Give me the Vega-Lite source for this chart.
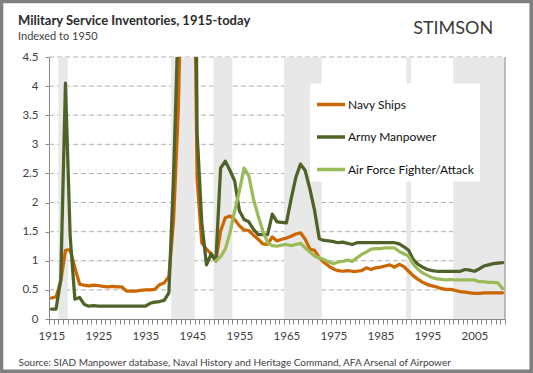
{
  "$schema": "https://vega.github.io/schema/vega-lite/v6.json",
  "width": 456,
  "height": 262,
  "autosize": "none",
  "padding": {"left": 49, "top": 57, "right": 28, "bottom": 54},
  "background": "white",
  "config": {
    "view": {"stroke": null},
    "font": "Lato",
    "axisX": {
      "grid": false,
      "tickSize": 5,
      "tickColor": "#868686",
      "domainColor": "#868686",
      "labelFont": "Lato",
      "labelFontSize": 11.5,
      "labelColor": "#404040",
      "labelPadding": 6,
      "labelOverlap": false,
      "labelFlush": false,
      "labelBound": false,
      "titleFont": "Lato",
      "titleFontSize": 10,
      "titleFontWeight": "normal",
      "titleColor": "#404040"
    },
    "axisY": {
      "grid": false,
      "tickSize": 4,
      "tickColor": "#868686",
      "domainColor": "#868686",
      "labelFont": "Lato",
      "labelFontSize": 11.5,
      "labelColor": "#404040",
      "labelPadding": 7,
      "labelOverlap": false
    }
  },
  "title": {
    "text": "Military Service Inventories, 1915-today",
    "subtitle": "Indexed to 1950",
    "anchor": "start",
    "frame": "group",
    "dx": -31,
    "dy": 42,
    "offset": 0,
    "font": "Lato",
    "fontSize": 13,
    "fontWeight": "bold",
    "color": "#2b2b2b",
    "subtitleFont": "Lato",
    "subtitleFontSize": 11,
    "subtitleColor": "#3f3f3f",
    "subtitlePadding": 3
  },
  "datasets": {
    "gridlines": [
      {"level": 0.5}, {"level": 1}, {"level": 1.5}, {"level": 2}, {"level": 2.5},
      {"level": 3}, {"level": 3.5}, {"level": 4}, {"level": 4.5}
    ],
    "wars": [
      {"from": 1916.5, "to": 1918.5},
      {"from": 1940.5, "to": 1945.5},
      {"from": 1949.5, "to": 1953.5},
      {"from": 1964.5, "to": 1972.5},
      {"from": 1990.5, "to": 1991.5},
      {"from": 2000.5, "to": 2011.5}
    ],
    "navy": [
      {"year": 1915, "value": 0.36}, {"year": 1916, "value": 0.38}, {"year": 1917, "value": 0.65}, {"year": 1918, "value": 1.18}, {"year": 1919, "value": 1.19},
      {"year": 1920, "value": 0.88}, {"year": 1921, "value": 0.6}, {"year": 1922, "value": 0.58}, {"year": 1923, "value": 0.57}, {"year": 1924, "value": 0.58},
      {"year": 1925, "value": 0.575}, {"year": 1926, "value": 0.56}, {"year": 1927, "value": 0.55}, {"year": 1928, "value": 0.56}, {"year": 1929, "value": 0.55},
      {"year": 1930, "value": 0.55}, {"year": 1931, "value": 0.48}, {"year": 1932, "value": 0.48}, {"year": 1933, "value": 0.48}, {"year": 1934, "value": 0.49},
      {"year": 1935, "value": 0.5}, {"year": 1936, "value": 0.5}, {"year": 1937, "value": 0.51}, {"year": 1938, "value": 0.59}, {"year": 1939, "value": 0.62},
      {"year": 1940, "value": 0.73}, {"year": 1941, "value": 1.7}, {"year": 1942, "value": 3.6}, {"year": 1943, "value": 7.0}, {"year": 1944, "value": 9.5},
      {"year": 1945, "value": 9.0}, {"year": 1946, "value": 2.4}, {"year": 1947, "value": 1.31}, {"year": 1948, "value": 1.2}, {"year": 1949, "value": 1.12},
      {"year": 1950, "value": 1.0}, {"year": 1951, "value": 1.51}, {"year": 1952, "value": 1.74}, {"year": 1953, "value": 1.77}, {"year": 1954, "value": 1.71},
      {"year": 1955, "value": 1.6}, {"year": 1956, "value": 1.53}, {"year": 1957, "value": 1.52}, {"year": 1958, "value": 1.44}, {"year": 1959, "value": 1.37},
      {"year": 1960, "value": 1.29}, {"year": 1961, "value": 1.28}, {"year": 1962, "value": 1.41}, {"year": 1963, "value": 1.34}, {"year": 1964, "value": 1.37},
      {"year": 1965, "value": 1.39}, {"year": 1966, "value": 1.42}, {"year": 1967, "value": 1.46}, {"year": 1968, "value": 1.48}, {"year": 1969, "value": 1.37},
      {"year": 1970, "value": 1.2}, {"year": 1971, "value": 1.18}, {"year": 1972, "value": 1.05}, {"year": 1973, "value": 0.97}, {"year": 1974, "value": 0.91},
      {"year": 1975, "value": 0.86}, {"year": 1976, "value": 0.83}, {"year": 1977, "value": 0.82}, {"year": 1978, "value": 0.83}, {"year": 1979, "value": 0.82},
      {"year": 1980, "value": 0.82}, {"year": 1981, "value": 0.83}, {"year": 1982, "value": 0.88}, {"year": 1983, "value": 0.85}, {"year": 1984, "value": 0.88},
      {"year": 1985, "value": 0.89}, {"year": 1986, "value": 0.91}, {"year": 1987, "value": 0.93}, {"year": 1988, "value": 0.89}, {"year": 1989, "value": 0.94},
      {"year": 1990, "value": 0.9}, {"year": 1991, "value": 0.82}, {"year": 1992, "value": 0.74}, {"year": 1993, "value": 0.68}, {"year": 1994, "value": 0.63},
      {"year": 1995, "value": 0.59}, {"year": 1996, "value": 0.57}, {"year": 1997, "value": 0.55}, {"year": 1998, "value": 0.52}, {"year": 1999, "value": 0.51},
      {"year": 2000, "value": 0.51}, {"year": 2001, "value": 0.49}, {"year": 2002, "value": 0.47}, {"year": 2003, "value": 0.46}, {"year": 2004, "value": 0.45},
      {"year": 2005, "value": 0.44}, {"year": 2006, "value": 0.44}, {"year": 2007, "value": 0.45}, {"year": 2008, "value": 0.45}, {"year": 2009, "value": 0.45},
      {"year": 2010, "value": 0.45}, {"year": 2011, "value": 0.45}
    ],
    "army": [
      {"year": 1915, "value": 0.17}, {"year": 1916, "value": 0.17}, {"year": 1917, "value": 0.68}, {"year": 1918, "value": 4.05}, {"year": 1919, "value": 1.42},
      {"year": 1920, "value": 0.34}, {"year": 1921, "value": 0.37}, {"year": 1922, "value": 0.25}, {"year": 1923, "value": 0.22}, {"year": 1924, "value": 0.23},
      {"year": 1925, "value": 0.22}, {"year": 1926, "value": 0.22}, {"year": 1927, "value": 0.22}, {"year": 1928, "value": 0.22}, {"year": 1929, "value": 0.22},
      {"year": 1930, "value": 0.22}, {"year": 1931, "value": 0.22}, {"year": 1932, "value": 0.22}, {"year": 1933, "value": 0.22}, {"year": 1934, "value": 0.22},
      {"year": 1935, "value": 0.22}, {"year": 1936, "value": 0.27}, {"year": 1937, "value": 0.29}, {"year": 1938, "value": 0.3}, {"year": 1939, "value": 0.32},
      {"year": 1940, "value": 0.45}, {"year": 1941, "value": 2.46}, {"year": 1942, "value": 5.2}, {"year": 1943, "value": 11.8}, {"year": 1944, "value": 13.5},
      {"year": 1945, "value": 14.0}, {"year": 1946, "value": 3.2}, {"year": 1947, "value": 1.65}, {"year": 1948, "value": 0.93}, {"year": 1949, "value": 1.12},
      {"year": 1950, "value": 1.0}, {"year": 1951, "value": 2.59}, {"year": 1952, "value": 2.71}, {"year": 1953, "value": 2.55}, {"year": 1954, "value": 2.37},
      {"year": 1955, "value": 1.86}, {"year": 1956, "value": 1.71}, {"year": 1957, "value": 1.67}, {"year": 1958, "value": 1.54}, {"year": 1959, "value": 1.45},
      {"year": 1960, "value": 1.45}, {"year": 1961, "value": 1.45}, {"year": 1962, "value": 1.8}, {"year": 1963, "value": 1.67}, {"year": 1964, "value": 1.66},
      {"year": 1965, "value": 1.65}, {"year": 1966, "value": 2.06}, {"year": 1967, "value": 2.43}, {"year": 1968, "value": 2.66}, {"year": 1969, "value": 2.55},
      {"year": 1970, "value": 2.23}, {"year": 1971, "value": 1.86}, {"year": 1972, "value": 1.38}, {"year": 1973, "value": 1.35}, {"year": 1974, "value": 1.34},
      {"year": 1975, "value": 1.33}, {"year": 1976, "value": 1.31}, {"year": 1977, "value": 1.32}, {"year": 1978, "value": 1.3}, {"year": 1979, "value": 1.28},
      {"year": 1980, "value": 1.31}, {"year": 1981, "value": 1.31}, {"year": 1982, "value": 1.31}, {"year": 1983, "value": 1.31}, {"year": 1984, "value": 1.31},
      {"year": 1985, "value": 1.31}, {"year": 1986, "value": 1.31}, {"year": 1987, "value": 1.31}, {"year": 1988, "value": 1.31}, {"year": 1989, "value": 1.29},
      {"year": 1990, "value": 1.24}, {"year": 1991, "value": 1.18}, {"year": 1992, "value": 1.02}, {"year": 1993, "value": 0.94}, {"year": 1994, "value": 0.89},
      {"year": 1995, "value": 0.85}, {"year": 1996, "value": 0.83}, {"year": 1997, "value": 0.82}, {"year": 1998, "value": 0.82}, {"year": 1999, "value": 0.82},
      {"year": 2000, "value": 0.82}, {"year": 2001, "value": 0.82}, {"year": 2002, "value": 0.82}, {"year": 2003, "value": 0.85}, {"year": 2004, "value": 0.84},
      {"year": 2005, "value": 0.82}, {"year": 2006, "value": 0.86}, {"year": 2007, "value": 0.91}, {"year": 2008, "value": 0.93}, {"year": 2009, "value": 0.95},
      {"year": 2010, "value": 0.96}, {"year": 2011, "value": 0.97}
    ],
    "air": [
      {"year": 1950, "value": 1.0}, {"year": 1951, "value": 1.07}, {"year": 1952, "value": 1.2}, {"year": 1953, "value": 1.48}, {"year": 1954, "value": 1.86},
      {"year": 1955, "value": 2.2}, {"year": 1956, "value": 2.59}, {"year": 1957, "value": 2.46}, {"year": 1958, "value": 2.06}, {"year": 1959, "value": 1.77},
      {"year": 1960, "value": 1.51}, {"year": 1961, "value": 1.31}, {"year": 1962, "value": 1.26}, {"year": 1963, "value": 1.25}, {"year": 1964, "value": 1.27},
      {"year": 1965, "value": 1.28}, {"year": 1966, "value": 1.26}, {"year": 1967, "value": 1.28}, {"year": 1968, "value": 1.3}, {"year": 1969, "value": 1.22},
      {"year": 1970, "value": 1.15}, {"year": 1971, "value": 1.08}, {"year": 1972, "value": 1.05}, {"year": 1973, "value": 1.02}, {"year": 1974, "value": 0.98},
      {"year": 1975, "value": 0.95}, {"year": 1976, "value": 0.98}, {"year": 1977, "value": 0.99}, {"year": 1978, "value": 1.01}, {"year": 1979, "value": 0.99},
      {"year": 1980, "value": 1.05}, {"year": 1981, "value": 1.11}, {"year": 1982, "value": 1.15}, {"year": 1983, "value": 1.2}, {"year": 1984, "value": 1.21},
      {"year": 1985, "value": 1.21}, {"year": 1986, "value": 1.22}, {"year": 1987, "value": 1.22}, {"year": 1988, "value": 1.22}, {"year": 1989, "value": 1.16},
      {"year": 1990, "value": 1.12}, {"year": 1991, "value": 1.08}, {"year": 1992, "value": 0.94}, {"year": 1993, "value": 0.85}, {"year": 1994, "value": 0.79},
      {"year": 1995, "value": 0.75}, {"year": 1996, "value": 0.71}, {"year": 1997, "value": 0.69}, {"year": 1998, "value": 0.68}, {"year": 1999, "value": 0.67},
      {"year": 2000, "value": 0.68}, {"year": 2001, "value": 0.67}, {"year": 2002, "value": 0.67}, {"year": 2003, "value": 0.67}, {"year": 2004, "value": 0.67},
      {"year": 2005, "value": 0.67}, {"year": 2006, "value": 0.64}, {"year": 2007, "value": 0.64}, {"year": 2008, "value": 0.63}, {"year": 2009, "value": 0.63},
      {"year": 2010, "value": 0.62}, {"year": 2011, "value": 0.52}
    ]
  },
  "layer": [
    {
      "data": {"name": "gridlines"},
      "mark": {"type": "rule", "color": "#b0b0b0", "strokeWidth": 1, "strokeDash": [5, 3], "opacity": 1},
      "encoding": {
        "x": {"datum": 1914.5, "type": "quantitative"},
        "x2": {"datum": 2011.5},
        "y": {"field": "level", "type": "quantitative"}
      }
    },
    {
      "data": {"name": "wars"},
      "mark": {"type": "rect", "color": "#e8e8e8"},
      "encoding": {
        "x": {
          "field": "from",
          "type": "quantitative",
          "scale": {"domain": [1914.5, 2011.5], "nice": false, "zero": false},
          "axis": {
            "values": [1914.5,1915.5,1916.5,1917.5,1918.5,1919.5,1920.5,1921.5,1922.5,1923.5,1924.5,1925.5,1926.5,1927.5,1928.5,1929.5,1930.5,1931.5,1932.5,1933.5,1934.5,1935.5,1936.5,1937.5,1938.5,1939.5,1940.5,1941.5,1942.5,1943.5,1944.5,1945.5,1946.5,1947.5,1948.5,1949.5,1950.5,1951.5,1952.5,1953.5,1954.5,1955.5,1956.5,1957.5,1958.5,1959.5,1960.5,1961.5,1962.5,1963.5,1964.5,1965.5,1966.5,1967.5,1968.5,1969.5,1970.5,1971.5,1972.5,1973.5,1974.5,1975.5,1976.5,1977.5,1978.5,1979.5,1980.5,1981.5,1982.5,1983.5,1984.5,1985.5,1986.5,1987.5,1988.5,1989.5,1990.5,1991.5,1992.5,1993.5,1994.5,1995.5,1996.5,1997.5,1998.5,1999.5,2000.5,2001.5,2002.5,2003.5,2004.5,2005.5,2006.5,2007.5,2008.5,2009.5,2010.5,2011.5],
            "tickCount": 500,
            "labelExpr": "(datum.value + 0.5 - 1915) % 10 == 0 ? format(datum.value + 0.5, 'd') : ''",
            "labelOffset": 2.35,
            "title": "Source: SIAD Manpower database, Naval History and Heritage Command, AFA Arsenal of Airpower",
            "titleAnchor": "start",
            "titleAlign": "left",
            "titleBaseline": "alphabetic",
            "titleX": -31,
            "titleY": 46
          }
        },
        "x2": {"field": "to"}
      }
    },
    {
      "data": {"values": [{}]},
      "mark": {"type": "rule", "color": "#868686", "strokeWidth": 1},
      "encoding": {"x": {"datum": 2011.5, "type": "quantitative"}}
    },
    {
      "data": {"name": "navy"},
      "mark": {"type": "line", "strokeWidth": 3.25, "clip": true, "strokeJoin": "round", "strokeCap": "round"},
      "encoding": {
        "x": {"field": "year", "type": "quantitative"},
        "y": {
          "field": "value",
          "type": "quantitative",
          "scale": {"domain": [0, 4.5], "nice": false, "zero": true},
          "axis": {"values": [0, 0.5, 1, 1.5, 2, 2.5, 3, 3.5, 4, 4.5], "tickCount": 50, "format": "~g", "title": null}
        },
        "color": {
          "datum": "Navy Ships",
          "type": "nominal",
          "scale": {
            "domain": ["Navy Ships", "Army Manpower", "Air Force Fighter/Attack"],
            "range": ["#cc6600", "#4f6228", "#9bbb59"]
          },
          "legend": {
            "title": null,
            "orient": "none",
            "legendX": 261,
            "legendY": 26.5,
            "fillColor": "white",
            "padding": 5,
            "symbolType": "stroke",
            "symbolSize": 784,
            "symbolStrokeWidth": 3.5,
            "labelFont": "Lato",
            "labelFontSize": 12,
            "labelColor": "#111111",
            "labelOffset": 1,
            "rowPadding": 9.5
          }
        }
      }
    },
    {
      "data": {"name": "army"},
      "mark": {"type": "line", "strokeWidth": 3.25, "clip": true, "strokeJoin": "round", "strokeCap": "round"},
      "encoding": {
        "x": {"field": "year", "type": "quantitative"},
        "y": {"field": "value", "type": "quantitative"},
        "color": {"datum": "Army Manpower", "type": "nominal"}
      }
    },
    {
      "data": {"name": "air"},
      "mark": {"type": "line", "strokeWidth": 3.25, "clip": true, "strokeJoin": "round", "strokeCap": "round"},
      "encoding": {
        "x": {"field": "year", "type": "quantitative"},
        "y": {"field": "value", "type": "quantitative"},
        "color": {"datum": "Air Force Fighter/Attack", "type": "nominal"}
      }
    },
    {
      "data": {"values": [{}]},
      "mark": {"type": "text", "text": "STIMSON", "align": "right", "baseline": "alphabetic", "font": "Lato", "fontSize": 18, "color": "#3a3a3a", "clip": false},
      "encoding": {
        "x": {"datum": 2009.0, "type": "quantitative"},
        "y": {"datum": 4.89, "type": "quantitative"}
      }
    },
    {
      "data": {"values": [{}]},
      "mark": {"type": "rect", "fill": "transparent", "fillOpacity": 0, "stroke": "#808080", "strokeWidth": 3.6, "strokeOpacity": 1, "clip": false},
      "encoding": {
        "x": {"datum": 1904.396, "type": "quantitative"},
        "x2": {"datum": 2017.08},
        "y": {"datum": 5.453, "type": "quantitative"},
        "y2": {"datum": -0.897}
      }
    }
  ]
}
